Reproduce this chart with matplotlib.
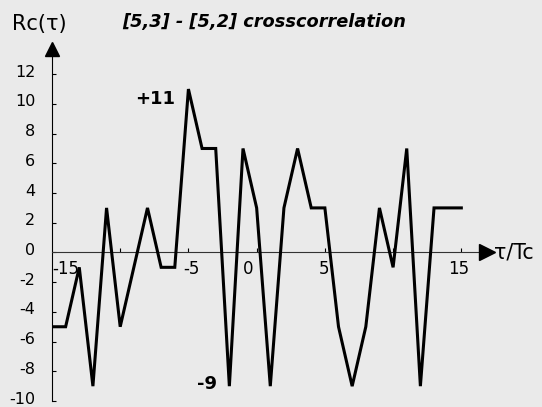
import matplotlib
matplotlib.use("Agg")
import matplotlib.pyplot as plt
from matplotlib.transforms import ScaledTranslation

plt.rcParams['font.family'] = ['DejaVu Sans']

# chip shift tau/Tc and crosscorrelation value
tau = list(range(-15, 16))
rc = [-5, -5, -1, -9, 3, -5, -1, 3, -1, -1,
      11, 7, 7, -9, 7, 3, -9, 3, 7, 3,
      3, -5, -9, -5, 3, -1, 7, -9, 3, 3, 3]

yticks = list(range(-10, 13, 2))
xticks = [-10, -5, 0, 5, 10, 15]
# x labels sit a little off their ticks in the original
xlabel_pos = [-14.0, -4.8, -0.65, 4.95, 14.8]
xlabel_txt = ["-15", "-5", "0", "5", "15"]

bg = '#eaeaea'
fig = plt.figure(figsize=(5.42, 4.07), dpi=100, facecolor=bg)
ax = fig.add_axes([0.0959, 0.0147, 0.8358, 0.8796])
ax.set_facecolor(bg)
ax.set_xlim(-15, 18.2)
ax.set_ylim(-10, 14.1)

ax.plot(tau, rc, color='black', lw=2.2, solid_joinstyle='miter', zorder=3)

for s in ['top', 'right']:
    ax.spines[s].set_visible(False)
ax.spines['bottom'].set_position(('data', 0))
ax.spines['bottom'].set_color('#333333')
ax.spines['left'].set_color('black')
ax.spines['left'].set_bounds(-10, 13.4)
ax.spines['bottom'].set_bounds(-15, 16.5)

# arrow heads
ax.plot(16.85, 0, '>', color='black', ms=11, clip_on=False, zorder=4)
ax.plot(-15, 13.7, '^', color='black', ms=10, clip_on=False, zorder=4)

ax.set_yticks(yticks)
ax.set_yticklabels([str(v) for v in yticks])
ax.set_xticks(xticks)
ax.set_xticklabels([])
ax.tick_params(axis='y', direction='in', length=3, pad=12, labelsize=11.5)
ax.tick_params(axis='x', direction='in', length=3)
# labels sit a touch above their ticks
shift = ScaledTranslation(0, 2.5 / 72, fig.dpi_scale_trans)
for lab in ax.get_yticklabels():
    lab.set_transform(lab.get_transform() + shift)

for p, t in zip(xlabel_pos, xlabel_txt):
    ax.text(p, -1.12, t, ha='center', va='center', fontsize=12)

ax.text(17.4, 0, 'τ/Tc', ha='left', va='center', fontsize=14.8, clip_on=False)
fig.text(0.022, 0.942, 'Rc(τ)', ha='left', va='center', fontsize=15)
fig.text(0.225, 0.947, '[5,3] - [5,2] crosscorrelation', ha='left', va='center',
         fontsize=12.8, fontweight='bold', fontstyle='italic')

ax.text(-6.0, 10.3, '+11', ha='right', va='center', fontsize=13, fontweight='bold')
ax.text(-2.92, -8.86, '-9', ha='right', va='center', fontsize=13, fontweight='bold')

fig.savefig('out.png', dpi=100, facecolor=bg)
